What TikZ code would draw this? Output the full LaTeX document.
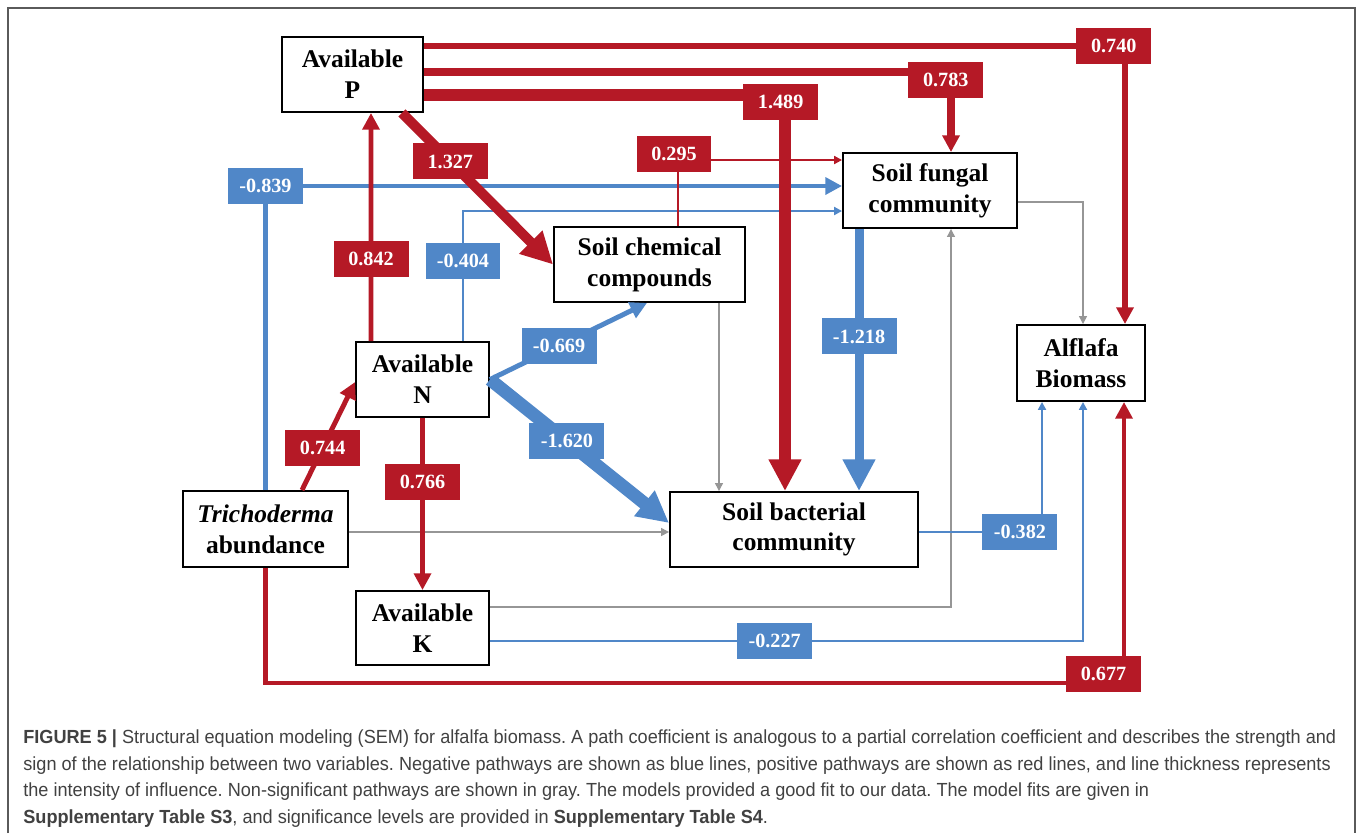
\documentclass[tikz,border=0pt]{standalone}
\usepackage{fontspec}
\setmainfont{Liberation Serif}
\newfontfamily\capfont[FakeStretch=0.955]{Liberation Sans}
\usepackage{tikz}
\usetikzlibrary{arrows.meta}

\definecolor{posred}{RGB}{181,25,38}
\definecolor{negblue}{RGB}{80,135,200}
\definecolor{nsgray}{RGB}{150,150,150}
\definecolor{captext}{RGB}{65,65,65}
\definecolor{framegray}{RGB}{90,90,90}

\begin{document}
\frenchspacing
\begin{tikzpicture}[
    x=0.02cm, y=-0.02cm,
    varbox/.style={draw, line width=1.1pt, fill=white, align=center,
                   inner sep=2pt, minimum height=1.5cm,
                   font=\bfseries\fontsize{14.5}{17.5}\selectfont},
    coef/.style={text=white, inner sep=0pt,
                 minimum width=1.5cm, minimum height=0.72cm,
                 font=\bfseries\fontsize{11.5}{13}\selectfont},
    poscoef/.style={coef, fill=posred},
    negcoef/.style={coef, fill=negblue},
    posline/.style={draw=posred},
    negline/.style={draw=negblue},
    tipS/.style={-{Triangle[length=4.5pt, width=4.5pt]}},
    tipM/.style={-{Triangle[length=9.5pt, width=9.5pt]}},
    tipL/.style={-{Triangle[length=18pt, width=17.5pt]}},
    nsline/.style={draw=nsgray, line width=0.7pt, tipS}
]
\useasboundingbox (0,0) rectangle (1358,833);
\draw[framegray, line width=0.9pt] (8,833) -- (8,8) -- (1355,8) -- (1355,833);

%% Variables
\node[varbox, minimum width=2.82cm] (avP) at (352.5,74.5) {Available\\P};
\node[varbox, minimum width=3.82cm] (chem) at (649.5,264.5) {Soil chemical\\compounds};
\node[varbox, minimum width=3.48cm] (fung) at (930,190.5) {Soil fungal\\community};
\node[varbox, minimum width=2.66cm] (avN) at (422.5,379.5) {Available\\N};
\node[varbox, minimum width=3.30cm, minimum height=1.52cm] (trich) at (265.5,529) {\textit{Trichoderma}\\abundance};
\node[varbox, minimum width=2.66cm, minimum height=1.48cm] (avK) at (422.5,628) {Available\\K};
\node[varbox, minimum width=4.96cm] (bact) at (794,529.5) {Soil bacterial\\community};
\node[varbox, minimum width=2.56cm, minimum height=1.52cm] (alf) at (1081,363) {Alflafa\\Biomass};

%% Non-significant paths
\draw[nsline] ([yshift=-0.06cm]trich.east) -- ([yshift=-0.06cm]trich.east -| bact.west);
\draw[nsline] ([xshift=1.39cm]chem.south) -- ([xshift=1.39cm]chem.south |- bact.north);
\draw[nsline] ([yshift=-0.23cm]fung.east) -| ([xshift=0.04cm]alf.north);
\draw[nsline] ([yshift=0.42cm]avK.east) -| ([xshift=0.42cm]fung.south);

%% Negative paths
\draw[negline, line width=2.8pt, tipM] (trich.north) |- ([yshift=0.09cm]fung.west)
    node[negcoef, pos=0.5] {-0.839};
\draw[negline, line width=1.7pt, tipS] ([xshift=0.81cm]avN.north) |- ([yshift=-0.41cm]fung.west)
    node[negcoef, pos=0.309] {-0.404};
\draw[negline, line width=2.8pt, tipM] (avN.east) -- ([xshift=-0.05cm]chem.south)
    node[negcoef, pos=0.44] {-0.669};
\draw[negline, line width=7.4pt, tipL] (avN.east) -- ([yshift=0.13cm]bact.west)
    node[negcoef, pos=0.43] {-1.620};
\draw[negline, line width=5.1pt, tipL] ([xshift=-1.42cm]fung.south) -- ([xshift=-1.42cm]fung.south |- bact.north)
    node[negcoef, pos=0.41] {-1.218};
\draw[negline, line width=1.2pt, tipS] ([yshift=-0.26cm]avK.east) -| ([xshift=0.04cm]alf.south)
    node[negcoef, pos=0.24] {-0.227};
\draw[negline, line width=1.2pt, tipS] ([yshift=-0.05cm]bact.east) -| ([xshift=-0.78cm]alf.south)
    node[negcoef, pos=0.41] {-0.382};

%% Positive paths
\draw[posline, line width=2.8pt, tipM] ([xshift=-1.03cm]avN.north) -- ([xshift=0.37cm]avP.south)
    node[poscoef, pos=0.36] {0.842};
\draw[posline, line width=2.8pt, tipM] ([xshift=0.73cm]trich.north) -- ([yshift=-0.05cm]avN.west)
    node[poscoef, pos=0.39] {0.744};
\draw[posline, line width=2.8pt, tipM] (avN.south) -- (avK.north)
    node[poscoef, pos=0.37] {0.766};
\draw[posline, line width=5.7pt, tipL] ([xshift=0.99cm]avP.south) -- (chem.west)
    node[poscoef, pos=0.32] {1.327};
\draw[posline, line width=1.2pt, tipS] ([xshift=0.57cm]chem.north) |- ([yshift=0.61cm]fung.west)
    node[poscoef, pos=0.5, xshift=-0.08cm, yshift=0.12cm] {0.295};
\draw[posline, line width=3.4pt, tipM] ([yshift=0.57cm]avP.east) -| ([xshift=0.88cm]alf.north)
    node[poscoef, pos=0.492] {0.740};
\draw[posline, line width=4pt, tipM] ([yshift=0.05cm]avP.east) -| ([xshift=0.42cm]fung.north)
    node[poscoef, pos=0.495, yshift=-0.15cm] {0.783};
\draw[posline, line width=6.8pt, tipL] ([yshift=-0.41cm]avP.east) -| ([xshift=-0.18cm]bact.north)
    node[poscoef, pos=0.494, yshift=-0.14cm] {1.489};
\coordinate (turn677) at (1124,683);
\draw[posline, line width=2.8pt, tipM] (trich.south) |- (turn677) -- (turn677 |- alf.south)
    node[poscoef, pos=0, xshift=-0.41cm, yshift=0.18cm] {0.677};

%% Caption
\node[anchor=north west, align=left, inner sep=0pt, text=captext,
      font=\capfont\fontsize{10.8}{15.3}\selectfont] (caption) at (23,729)
    {\textbf{FIGURE 5 |} Structural equation modeling (SEM) for alfalfa biomass. A path coefficient is analogous to a partial correlation coefficient and describes the strength and\\
     sign of the relationship between two variables. Negative pathways are shown as blue lines, positive pathways are shown as red lines, and line thickness represents\\
     the intensity of influence. Non-significant pathways are shown in gray. The models provided a good fit to our data. The model fits are given in\\
     \textbf{Supplementary Table S3}, and significance levels are provided in \textbf{Supplementary Table S4}.};
\end{tikzpicture}
\end{document}
